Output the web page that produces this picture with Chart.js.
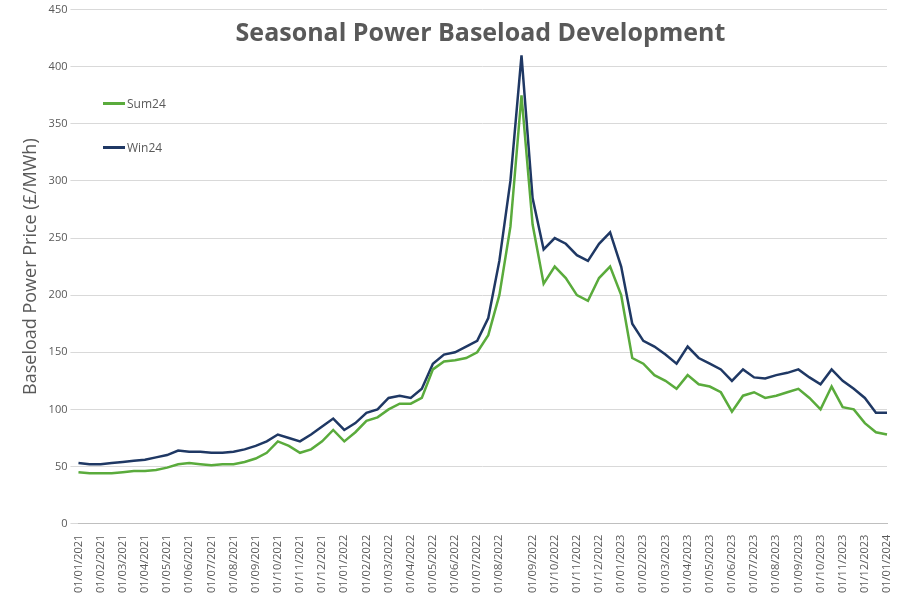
<!DOCTYPE html>
<html>
<head>
<meta charset="utf-8">
<script src="https://cdn.jsdelivr.net/npm/chart.js@4/dist/chart.umd.min.js"></script>
<style>
  body { margin: 0; background: #fff; }
  #wrap { position: relative; width: 913px; height: 596px; }
  .leg { position: absolute; font: 12px "Open Sans", sans-serif; color: #595959; display: flex; align-items: center; }
  .leg span { display: inline-block; width: 22px; height: 3px; margin-right: 2px; }
  #title { position: absolute; left: 75px; width: 811px; top: 14px; text-align: center; font: bold 25px "Open Sans", sans-serif; color: #595959; background: transparent; }
</style>
</head>
<body>
<div id="wrap">
  <canvas id="myChart" width="913" height="596"></canvas>
  <div id="title">Seasonal Power Baseload Development</div>
  <div class="leg" style="left:103px;top:95px"><span style="background:#5aab3c"></span>Sum24</div>
  <div class="leg" style="left:103px;top:139px"><span style="background:#1f3864"></span>Win24</div>
</div>
<script>
// half-monthly labels, plus one extra point at the Aug 2022 peak
const labels = [];
for (let y = 2021; y <= 2023; y++) {
  for (let m = 1; m <= 12; m++) {
    const mm = String(m).padStart(2, "0");
    labels.push("01/" + mm + "/" + y, "15/" + mm + "/" + y);
    if (y === 2022 && m === 8) labels.push("25/08/2022");
  }
}
labels.push("01/01/2024");

const sum24 = [
  45,44,44,44,45,46,46,47,49,52,53,52,51,52,52,54,57,62,72,68,62,65,72,82,
  72,80,90,93,100,105,105,110,135,142,143,145,150,165,200,260,375,262,210,225,215,200,195,215,225,
  200,145,140,130,125,118,130,122,120,115,98,112,115,110,112,115,118,110,100,120,102,100,88,80,
  78
];
const win24 = [
  53,52,52,53,54,55,56,58,60,64,63,63,62,62,63,65,68,72,78,75,72,78,85,92,
  82,88,97,100,110,112,110,118,140,148,150,155,160,180,230,300,410,285,240,250,245,235,230,245,255,
  225,175,160,155,148,140,155,145,140,135,125,135,128,127,130,132,135,128,122,135,125,118,110,97,
  97
];

const ctx = document.getElementById("myChart").getContext("2d");
new Chart(ctx, {
  type: "line",
  data: {
    labels: labels,
    datasets: [
      { label: "Sum24", data: sum24, borderColor: "#5aab3c", borderWidth: 2.5, pointRadius: 0, tension: 0 },
      { label: "Win24", data: win24, borderColor: "#1f3864", borderWidth: 2.5, pointRadius: 0, tension: 0 },
    ],
  },
  options: {
    responsive: false,
    animation: false,
    layout: { padding: { top: 4, right: 26, left: 16 } },
    plugins: { legend: { display: false } },
    scales: {
      x: {
        offset: false,
        grid: { display: false },
        border: { color: "#bfbfbf" },
        ticks: {
          autoSkip: false, maxRotation: 90, minRotation: 90,
          color: "#595959", font: { family: "Open Sans", size: 11 },
          callback: function (v) { const l = this.getLabelForValue(v); return l.startsWith("01/") ? l : null; },
        },
      },
      y: {
        min: 0, max: 450,
        ticks: { stepSize: 50, color: "#595959", font: { family: "Open Sans", size: 11 } },
        grid: { color: "#d9d9d9" },
        border: { display: false },
        title: { display: true, text: "Baseload Power Price (£/MWh)", color: "#595959", font: { family: "Open Sans", size: 18 } },
      },
    },
  },
});
</script>
</body>
</html>
